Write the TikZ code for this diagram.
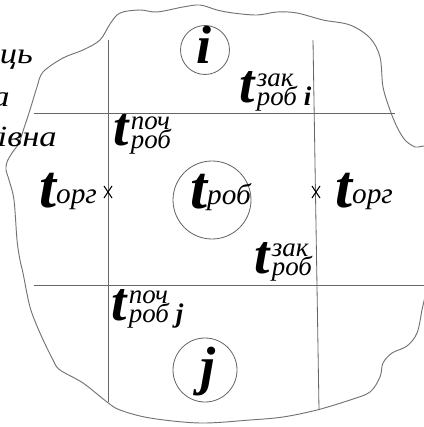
\documentclass[tikz,border=0pt]{standalone}
\usepackage{fontspec}
\usepackage{graphicx}
\setmainfont{Liberation Serif}
\newcommand{\tfont}{\fontsize{52}{52}\selectfont\bfseries\itshape}
\newcommand{\tsfont}{\fontsize{47}{47}\selectfont\bfseries\itshape}
\newcommand{\ifont}{\fontsize{25}{25}\selectfont\itshape}
\newcommand{\jfont}{\fontsize{23}{23}\selectfont\itshape}
\newcommand{\letfont}{\fontsize{46}{46}\selectfont\bfseries\itshape}
\newcommand{\handfont}{\fontsize{25}{25}\selectfont\itshape}
% t with a subscript only
\newcommand{\tsub}[1]{{\tfont t}{\ifont\raisebox{3pt}{#1}}}
% t with a superscript and a subscript
\newcommand{\tboth}[2]{{\tsfont t}\kern2pt{\jfont\rlap{\raisebox{14pt}{#1}}\raisebox{-2pt}{#2}}}
% wide hand-written words
\newcommand{\hand}[1]{\scalebox{1.18}[1]{\handfont #1}}

\tikzset{
  gridline/.style={draw=black!60, line width=0.7pt},
  blob/.style={draw=black!55, line width=0.8pt},
  ring/.style={circle, draw=black!60, line width=0.7pt, inner sep=0pt},
  tlabel/.style={anchor=base west, inner sep=0pt},
  cross/.style={draw=black, line width=0.9pt},
}

\begin{document}
\begin{tikzpicture}[x=0.03cm, y=-0.03cm]
    \useasboundingbox (0,0) rectangle (423,427);
    % outline of the area
    \draw[blob] plot[smooth cycle, tension=0.55] coordinates {
        (100,40) (110,24) (120,13) (140,10) (157,12) (183,7) (200,5)
        (217,10) (233,13) (257,15) (277,12) (297,13) (323,20) (350,25)
        (370,38) (380,57) (383,87) (390,110) (397,127) (405,140) (415,147)
        (430,152) (432,220) (427,283) (422,310) (417,333) (407,346)
        (392,353) (383,363) (380,377) (370,392) (350,400) (317,410)
        (283,417) (250,420) (200,423) (150,418) (120,410) (107,402)
        (83,383) (60,370) (53,360) (40,333) (30,307) (23,273) (20,260)
        (17,240) (14,200) (9,180) (6,170) (7,162) (12,153) (19,143)
        (24,128) (29,113) (33,100) (37,87) (43,72) (63,58) (83,50)};
    % grid
    \coordinate (v1a) at (108,40);  \coordinate (v1b) at (108,402);
    \coordinate (v2a) at (313,40);  \coordinate (v2b) at (319,410);
    \coordinate (h1a) at (34,113);  \coordinate (h1b) at (395,113);
    \coordinate (h2a) at (34,285);  \coordinate (h2b) at (430,285);
    \draw[gridline] (v1a) -- (v1b);
    \draw[gridline] (v2a) -- (v2b);
    \draw[gridline] (h1a) -- (h1b);
    \draw[gridline] (h2a) -- (h2b);
    % crosses
    \coordinate (xl) at (108,192);
    \coordinate (xr) at (316,192);
    \foreach \c in {xl,xr} {
        \draw[cross] ([xshift=-4*0.03cm, yshift=6*0.03cm]\c) -- ([xshift=4*0.03cm, yshift=-6*0.03cm]\c);
        \draw[cross] ([xshift=-4*0.03cm, yshift=-6*0.03cm]\c) -- ([xshift=4*0.03cm, yshift=6*0.03cm]\c);
    }
    % circles
    \node[ring, minimum size=1.47cm] (ci) at (205,50) {};
    \node[ring, minimum size=2.34cm] (cw) at (212,200) {};
    \node[ring, minimum size=1.92cm] (cj) at (205,370) {};
    \node[tlabel] (li) at (196,64) {\letfont i};
    \node[tlabel] (lj) at (200,384) {\letfont j};
    % labels
    \node[tlabel] (tendi) at (239,103) {\tboth{зак}{роб \textbf{i}}};
    \node[tlabel] (tbeg) at (113,146) {\tboth{поч}{роб}};
    \node[tlabel] (torgl) at (39,207) {\tsub{орг}};
    \node[tlabel] (torgr) at (335,207) {\tsub{орг}};
    \node[tlabel] (twork) at (190,208) {\tsub{роб}};
    \node[tlabel] (tend) at (254,273) {\tboth{зак}{роб}};
    \node[tlabel] (tbegj) at (111,320) {\tboth{поч}{роб \textbf{j}}};
    % cut-off text at the left edge
    \node[anchor=base east, inner sep=0pt] (w1) at (33,64) {\hand{иць}};
    \node[anchor=base east, inner sep=0pt] (w2) at (10,107) {\hand{а}};
    \node[anchor=base east, inner sep=0pt] (w3) at (57,147) {\hand{івна}};
\end{tikzpicture}
\end{document}
